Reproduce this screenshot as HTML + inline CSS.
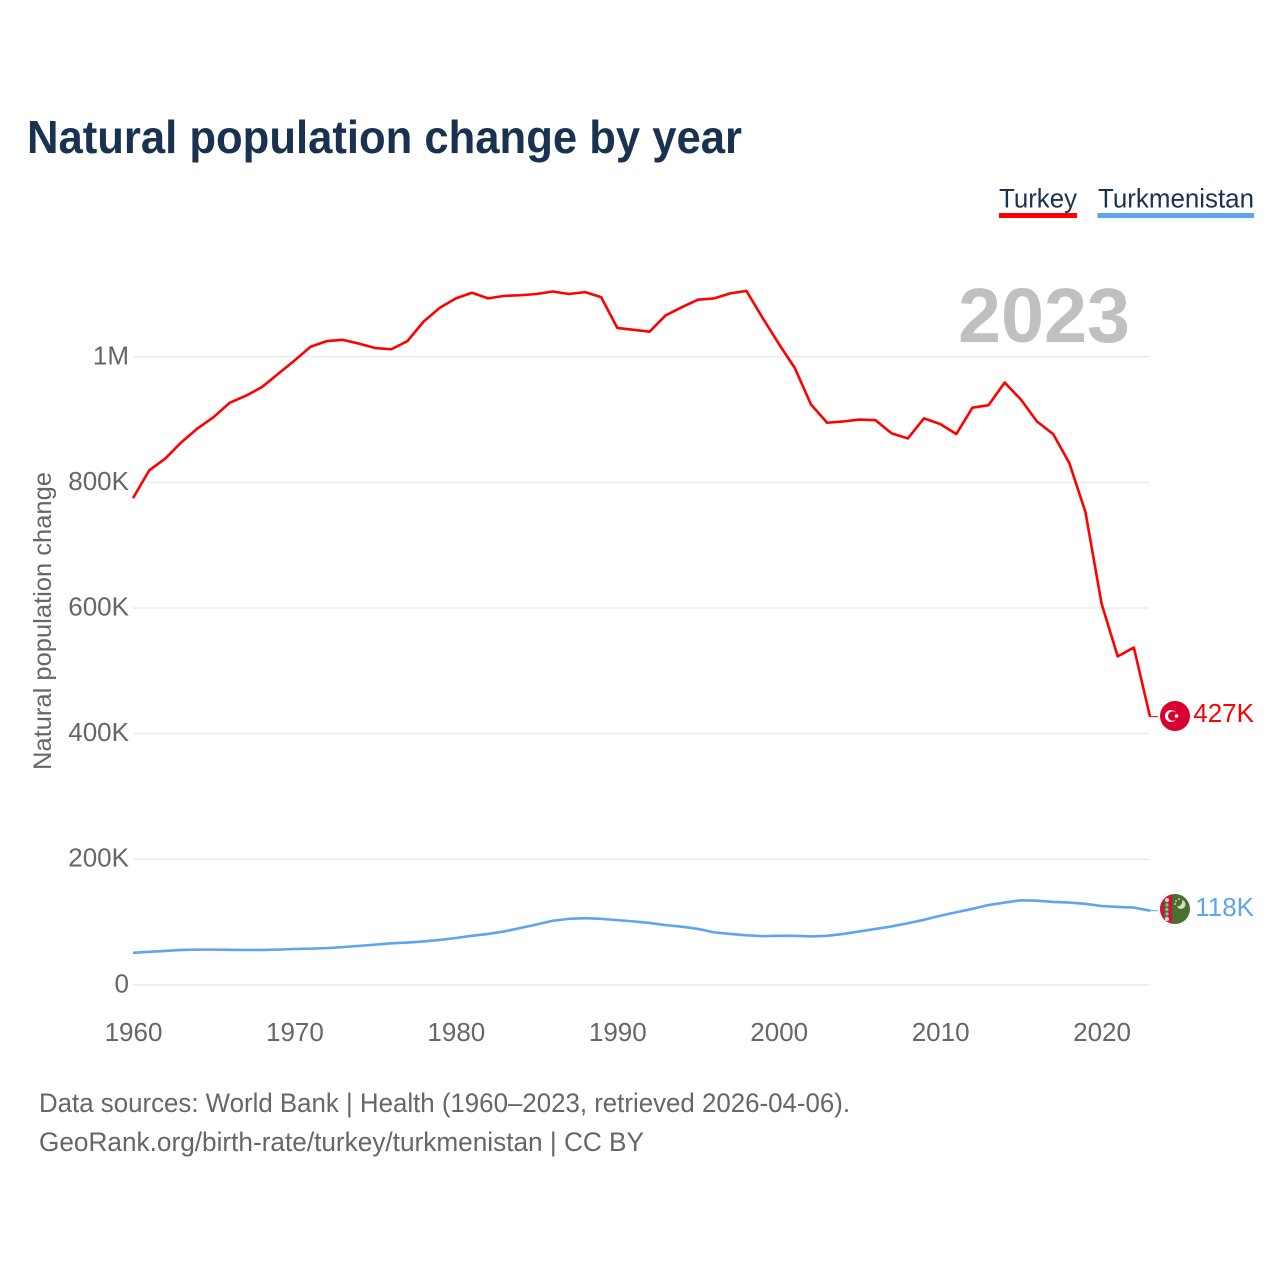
<!DOCTYPE html>
<html lang="en">
<head>
<meta charset="utf-8">
<title>Natural population change by year</title>
<style>
  html, body { margin: 0; padding: 0; background: #fff; }
  svg { display: block; font-family: "Liberation Sans", sans-serif; }
</style>
</head>
<body>
<svg id="chart" xmlns="http://www.w3.org/2000/svg" width="1280" height="1280" viewBox="0 0 1280 1280">
  <defs>
    <clipPath id="clip-tr"><circle cx="1175" cy="716" r="15"></circle></clipPath>
    <clipPath id="clip-tm"><circle cx="1175" cy="909" r="15"></circle></clipPath>
  </defs>
  <rect x="0" y="0" width="1280" height="1280" fill="#fff"></rect>
  <text x="27" y="153" font-size="46" font-weight="700" fill="#18324f" textLength="715" lengthAdjust="spacingAndGlyphs">Natural population change by year</text>

  <g>
    <text x="999" y="207.500" font-size="27" fill="#18324f" textLength="78" lengthAdjust="spacingAndGlyphs">Turkey</text>
    <rect x="999" y="213" width="78" height="5" fill="#ff0000"></rect>
  </g>
  <g>
    <text x="1098" y="207.500" font-size="27" fill="#18324f" textLength="156" lengthAdjust="spacingAndGlyphs">Turkmenistan</text>
    <rect x="1097.500" y="213" width="156.500" height="5" fill="#5fa4ee"></rect>
  </g>

  <g id="grid"></g>
  <text id="current-year" x="958" y="342" font-size="77" font-weight="700" fill="#c0c0c0" textLength="172" lengthAdjust="spacingAndGlyphs">2023</text>
  <g id="y-ticks"></g>
  <g id="x-ticks"></g>
  <text transform="translate(51 770) rotate(-90)" x="0" y="0" font-size="25" fill="#666666" textLength="298" lengthAdjust="spacingAndGlyphs">Natural population change</text>

  <g id="series"></g>

  <g clip-path="url(#clip-tr)">
    <rect x="1160" y="701" width="30" height="30" fill="#d9002f"></rect>
    <circle cx="1171" cy="716" r="6" fill="#fff"></circle>
    <circle cx="1172.800" cy="716" r="4.800" fill="#d9002f"></circle>
    <circle cx="1176.500" cy="716" r="1.800" fill="#fff"></circle>
  </g>
  <g clip-path="url(#clip-tm)">
    <rect x="1160" y="894" width="30" height="30" fill="#4a7030"></rect>
    <rect x="1160" y="894" width="12" height="30" fill="#d3123c"></rect>
    <rect x="1164" y="900" width="4.500" height="18" fill="#4a7030"></rect>
    <circle cx="1167" cy="900" r="2" fill="#f3c9cf"></circle>
    <circle cx="1167" cy="905" r="1.600" fill="#9fb58f"></circle>
    <circle cx="1167" cy="909.500" r="1.600" fill="#9fb58f"></circle>
    <circle cx="1167" cy="914" r="1.600" fill="#9fb58f"></circle>
    <circle cx="1167" cy="919" r="2" fill="#f3c9cf"></circle>
    <path d="M1182 900 A4.500 4.500 0 1 1 1177 906.500 A5 5 0 0 0 1182 900 Z" fill="#d5ddce"></path>
    <circle cx="1175" cy="904" r="0.900" fill="#e4eadf"></circle>
    <circle cx="1176" cy="901" r="0.900" fill="#e4eadf"></circle>
    <circle cx="1179" cy="899" r="0.900" fill="#e4eadf"></circle>
  </g>

  <text x="39" y="1112" font-size="26.500" fill="#666666" textLength="811" lengthAdjust="spacingAndGlyphs">Data sources: World Bank | Health (1960–2023, retrieved 2026-04-06).</text>
  <text x="39" y="1151" font-size="26.500" fill="#666666" textLength="605" lengthAdjust="spacingAndGlyphs">GeoRank.org/birth-rate/turkey/turkmenistan | CC BY</text>
</svg>

<script>
var years = [1960,1961,1962,1963,1964,1965,1966,1967,1968,1969,1970,1971,1972,1973,1974,1975,1976,1977,1978,1979,1980,1981,1982,1983,1984,1985,1986,1987,1988,1989,1990,1991,1992,1993,1994,1995,1996,1997,1998,1999,2000,2001,2002,2003,2004,2005,2006,2007,2008,2009,2010,2011,2012,2013,2014,2015,2016,2017,2018,2019,2020,2021,2022,2023];
var turkeyValues = [775,819,838,864,886,904,927,938,952,973,994,1016,1025,1027,1021,1014,1012,1025,1056,1078,1093,1102,1093,1097,1098,1100,1104,1100,1103,1095,1046,1043,1040,1066,1079,1091,1093,1101,1105,1062,1021,982,924,895,897,900,899,878,870,902,893,877,919,923,959,932,897,877,831,753,607,523,537,427];
var turkmenistanValues = [51,52.5,54,55.5,56,56,55.7,55.4,55.5,56,57,57.6,58.4,60,62,64,66,67.3,69,71.5,74.5,78,81,85,90.5,96,102,105,106,105,103,101,98.5,95,92.5,89,83.5,81,78.8,77.5,78,78,77,78,81,85,89,93,98,103.5,110,115.5,121,127,131,134.5,134,132,131,129,125.5,124,123,118];
var yTickValues = [0,200,400,600,800,1000];
var yTickLabels = ["0","200K","400K","600K","800K","1M"];
var xTickValues = [1960,1970,1980,1990,2000,2010,2020];

var NS = "http://www.w3.org/2000/svg";
function xScale(year) { return 133 + (year - 1960) * (1150 - 133) / 63; }
function yScale(value) { return 984.8 - value * 628 / 1000; }
function make(tag, parent, attrs) {
  var el = document.createElementNS(NS, tag);
  Object.keys(attrs).forEach(function (k) { el.setAttribute(k, attrs[k]); });
  parent.appendChild(el);
  return el;
}
var gridGroup = document.getElementById("grid");
var yGroup = document.getElementById("y-ticks");
var xGroup = document.getElementById("x-ticks");
var seriesGroup = document.getElementById("series");

yTickValues.forEach(function (v, i) {
  var line = make("line", gridGroup, { x1: 133, x2: 1150, y1: yScale(v), y2: yScale(v), stroke: "#ebebeb", "stroke-width": 1.5 });
  
  
  var label = make("text", yGroup, { x: 129, y: yScale(v) + 7.5, "text-anchor": "end", "font-size": 26, fill: "#666666" });
  label.textContent = yTickLabels[i];
  
  
});

xTickValues.forEach(function (year) {
  var label = make("text", xGroup, { x: xScale(year) + 0.5, y: 1041, "text-anchor": "middle", "font-size": 26, fill: "#666666" });
  label.textContent = String(year);
  
  
});

function linePath(values) {
  return values.map(function (v, i) {
    return (i ? "L" : "M") + xScale(years[i]).toFixed(2) + " " + yScale(v).toFixed(2);
  }).join(" ");
}
function drawSeries(values, color, labelDy) {
  var path = make("path", seriesGroup, { d: linePath(values), fill: "none", stroke: color, "stroke-width": 2.6, "stroke-linejoin": "round" });
  
  
  var last = values[values.length - 1];
  var lastY = yScale(last);
  var connector = make("line", seriesGroup, { x1: xScale(years[years.length - 1]), x2: 1158, y1: lastY, y2: lastY, stroke: color, "stroke-width": 1 });
  
  
  var endLabel = make("text", seriesGroup, { x: 1254, y: lastY + labelDy, "text-anchor": "end", "font-size": 26, fill: color });
  endLabel.textContent = Math.round(last) + "K";
  
  
}
drawSeries(turkeyValues, "#ff0000", 5.5);
drawSeries(turkmenistanValues, "#5fa4ee", 5.5);
</script>
</body>
</html>
